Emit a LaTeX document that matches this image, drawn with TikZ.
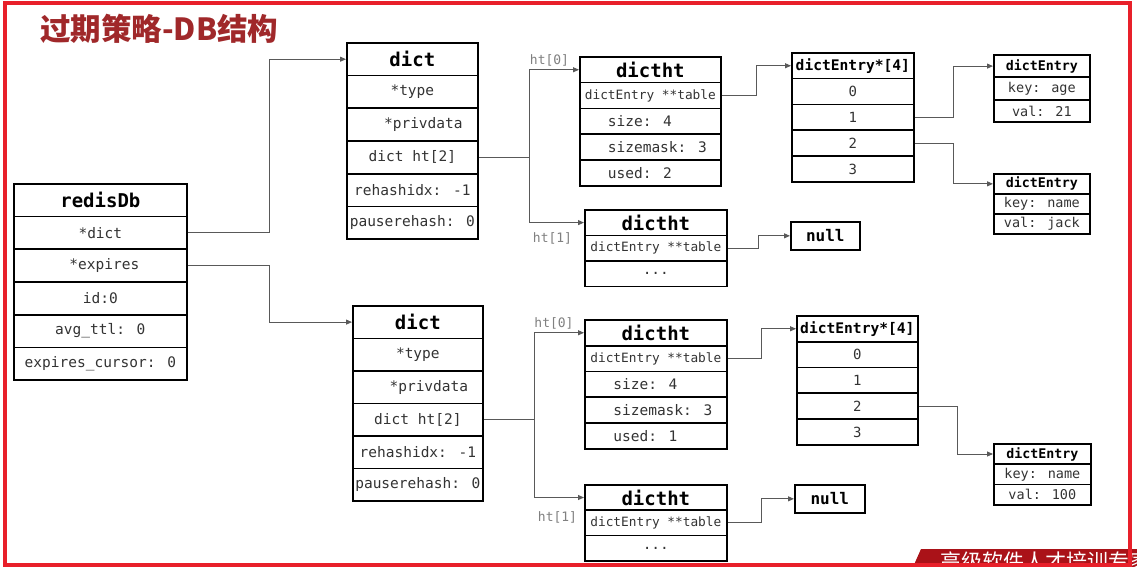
\documentclass[tikz,border=0pt]{standalone}
\usepackage{fontspec}
\newfontfamily\mono{DejaVu Sans Mono}
\newfontfamily\cjk{Noto Sans CJK SC}
\usetikzlibrary{arrows.meta}
\definecolor{titlered}{RGB}{160,40,42}
\definecolor{framered}{RGB}{232,32,42}
\definecolor{bandred}{RGB}{170,18,24}
\newcommand\fHead{\mono\bfseries\fontsize{19}{21}\selectfont}
\newcommand\fRow{\mono\fontsize{14.5}{16}\selectfont}
\newcommand\fEH{\mono\bfseries\fontsize{14.6}{16}\selectfont}
\newcommand\fER{\mono\fontsize{14}{16}\selectfont}
\newcommand\fDH{\mono\bfseries\fontsize{13.3}{15}\selectfont}
\newcommand\fDR{\mono\fontsize{13.5}{15}\selectfont}
\newcommand\fNull{\mono\bfseries\fontsize{16}{18}\selectfont}
\newcommand\tbl{{\fontsize{12.8}{14}\selectfont dictEntry **table}}
\newcommand\threedots{...}
\newcommand\lft[1]{\makebox[85pt][l]{#1}}
\newcommand\rec[9]{%
  \node[cell, font=#6, minimum width=#4, minimum height=#5] (#1-0) at (#2,#3) {#7};
  \foreach \t [count=\i] in {#9}{%
    \node[cell, font=#8, text=black!80, minimum width=#4, minimum height=#5] (#1-\i) at (#2,#3+\i*#5) {\t};}%
}
\begin{document}
\begin{tikzpicture}[x=1pt,y=-1pt,
  cell/.style={draw=black, line width=1.7pt, inner sep=0pt, anchor=north west, fill=white},
  conn/.style={draw=black!65, line width=0.9pt, -{Triangle[length=6pt,width=5pt]}},
  htlbl/.style={text=black!50, font=\mono\fontsize{13}{14}\selectfont, inner sep=0pt}]
\useasboundingbox (0,0) rectangle (1137,567);
\fill[white] (0,0) rectangle (1137,567);
% title
\node[anchor=west, inner sep=0pt, text=titlered, font=\cjk\bfseries\fontsize{30.5}{32}\selectfont] (title) at (40,29) {过期策略-DB结构};
% redisDb
\rec{rd}{13}{183}{173}{32.7}{\fHead}{redisDb}{\fRow}{*dict,\hspace{8pt}*expires,id:0,avg\_ttl: 0,expires\_cursor: 0}
% dicts
\rec{d1}{346}{42}{131}{32.7}{\fHead}{dict}{\fRow}{*type,\hspace{22pt}*privdata,dict ht[2],rehashidx: -1,pauserehash: 0}
\rec{d2}{352}{305}{130}{32.5}{\fHead}{dict}{\fRow}{*type,\hspace{22pt}*privdata,dict ht[2],rehashidx: -1,pauserehash: 0}
% dictht
\rec{t0}{579}{56}{141}{25.8}{\fHead}{dictht}{\fRow}{\tbl,\lft{size: 4},\lft{sizemask: 3},\lft{used: 2}}
\rec{t1}{584}{209}{142}{25.5}{\fHead}{dictht}{\fRow}{\tbl,\threedots}
\rec{b0}{584}{319}{142}{25.8}{\fHead}{dictht}{\fRow}{\tbl,\lft{size: 4},\lft{sizemask: 3},\lft{used: 1}}
\rec{b1}{584}{484}{142}{25.3}{\fHead}{dictht}{\fRow}{\tbl,\threedots}
% dictEntry*[4]
\rec{e1}{791}{52}{122}{25.8}{\fEH}{dictEntry*[4]}{\fER}{0,1,2,3}
\rec{e2}{796}{315}{121}{25.8}{\fEH}{dictEntry*[4]}{\fER}{0,1,2,3}
% dictEntry
\rec{ea}{993}{54}{96}{22.5}{\fDH}{dictEntry}{\fDR}{key: age,val: 21}
\rec{ej}{993}{173}{96}{20}{\fDH}{dictEntry}{\fDR}{key: name,val: jack}
\rec{eb}{993}{443}{97}{20.3}{\fDH}{dictEntry}{\fDR}{key: name,val: 100}
% null
\node[cell, font=\fNull, minimum width=69, minimum height=28] (n1) at (790,221) {null};
\node[cell, font=\fNull, minimum width=70, minimum height=28] (n2) at (794,484) {null};
% ht labels
\node[htlbl] (l1) at (549.5,60) {ht[0]};
\node[htlbl] (l2) at (552.5,238) {ht[1]};
\node[htlbl] (l3) at (554,323) {ht[0]};
\node[htlbl] (l4) at (557.5,517) {ht[1]};
% connectors
\draw[conn] (rd-1.east) -- ++(82,0) |- (d1-0.west);
\draw[conn] (rd-2.east) -- ++(82,0) |- (d2-0.west);
\draw[conn] (d1-3.east) -- ++(51,0) |- (t0-0.west);
\draw[conn] ([xshift=51pt]d1-3.east) |- (t1-0.west);
\draw[conn] (d2-3.east) -- ++(51,0) |- (b0-0.west);
\draw[conn] ([xshift=51pt]d2-3.east) |- (b1-0.west);
\draw[conn] (t0-1.east) -- ++(35,0) |- (e1-0.west);
\draw[conn] (t1-1.east) -- ++(31,0) |- (n1.west);
\draw[conn] (b0-1.east) -- ++(34,0) |- (e2-0.west);
\draw[conn] (b1-1.east) -- ++(34,0) |- (n2.west);
\draw[conn] (e1-2.east) -- ++(39,0) |- (ea-0.west);
\draw[conn] (e1-3.east) -- ++(39,0) |- (ej-0.west);
\draw[conn] (e2-3.east) -- ++(39,0) |- (eb-0.west);
% watermark band
\fill[bandred] (913,567) -- (921,549) -- (1137,549) -- (1137,567) -- cycle;
\begin{scope}
\clip (913,567) -- (921,549) -- (1137,549) -- (1137,567) -- cycle;
\node[anchor=north west, inner sep=0pt, text=white, font=\cjk\fontsize{21}{22}\selectfont] (wm) at (940,552) {高级软件人才培训专家};
\end{scope}
% frame
\draw[framered, line width=4.5pt] (5,3) rectangle (1130,565);
\end{tikzpicture}
\end{document}
